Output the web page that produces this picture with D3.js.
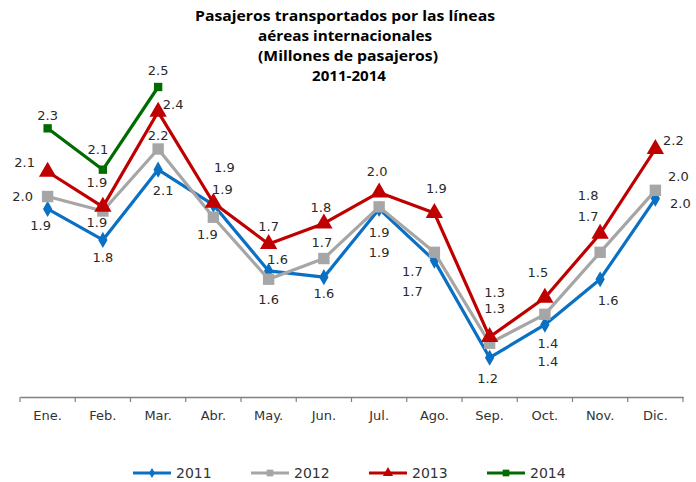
<!DOCTYPE html>
<html>
<head>
<meta charset="utf-8">
<script src="https://cdn.jsdelivr.net/npm/d3@7"></script>
<style>
  body { margin: 0; background: #fff; }
  .title { font-family: "Open Sans", Lato, sans-serif; font-weight: bold; font-size: 14px; fill: #000; }
  .lbl { font-family: "DejaVu Sans", sans-serif; font-size: 13px; fill: #2a2a2a; }
  .axis text { font-family: "DejaVu Sans", sans-serif; font-size: 13px; fill: #333; }
  .legend text { font-family: "DejaVu Sans", sans-serif; font-size: 14px; fill: #333; }
</style>
</head>
<body>
<div id="chart"></div>
<script>
// months on the x axis
var months = ["Ene.", "Feb.", "Mar.", "Abr.", "May.", "Jun.", "Jul.", "Ago.", "Sep.", "Oct.", "Nov.", "Dic."];

// millions of passengers
var v2011 = [1.91, 1.76, 2.10, 1.93, 1.61, 1.58, 1.91, 1.66, 1.19, 1.35, 1.57, 1.96];
var v2012 = [1.97, 1.90, 2.20, 1.87, 1.57, 1.67, 1.92, 1.70, 1.26, 1.40, 1.70, 2.00];
var v2013 = [2.09, 1.92, 2.38, 1.94, 1.74, 1.84, 1.99, 1.89, 1.29, 1.48, 1.79, 2.20];
var v2014 = [2.30, 2.10, 2.50];

var seriesNames = ["2011", "2012", "2013", "2014"];

// where each value label sits relative to its point
var off2011 = [[-7,17],[0,18],[5,21],[9,-15],[9,-11],[0,16],[0,44],[-22,31],[-2,21],[3,37],[8,21],[25,5]];
var off2012 = [[-25,0],[-6,11],[0,-14],[-6,17],[0,20],[-2,-16],[0,26],[-22,19],[5,-35],[3,29],[-12,-36],[23,-14]];
var off2013 = [[-23,-9],[-6,-24],[15,-7],[11,-35],[0,-18],[-3,-16],[-2,-21],[2,-25],[5,-45],[-7,-25],[-12,-38],[18,-9]];
var off2014 = [[0,-13],[-5,-20],[0,-17]];

var width = 696, height = 482;

var svg = d3.select("#chart")
    .append("svg")
    .attr("width", width)
    .attr("height", height);

// scales
var x = d3.scaleBand()
    .domain(months)
    .range([20, 683]);

var y = d3.scaleLinear()
    .domain([1.0, 2.5])
    .range([397, 87]);

var cx = function (m) { return x(m) + x.bandwidth() / 2; };

// title
var titleLines = [
    {t: "Pasajeros transportados por las líneas", dx: 0, w: 300},
    {t: "aéreas internacionales", dx: 0, w: 174},
    {t: "(Millones de pasajeros)", dx: 3, w: 180},
    {t: "2011-2014", dx: 4, w: 74}
];
svg.append("g")
    .selectAll("text")
    .data(titleLines)
    .join("text")
    .attr("class", "title")
    .attr("text-anchor", "middle")
    .attr("x", d => 345 + d.dx)
    .attr("y", (d, i) => 21 + i * 20)
    .attr("textLength", d => d.w)
    .attr("lengthAdjust", "spacingAndGlyphs")
    .text(d => d.t);

// x axis
var xAxis = d3.axisBottom(x).tickSize(0).tickPadding(14);
var gx = svg.append("g")
    .attr("class", "axis")
    .attr("transform", "translate(0,397)")
    .call(xAxis);
gx.select(".domain").attr("stroke", "#808080").attr("stroke-width", 1.5);

// tick marks between the months
var bounds = months.map(m => x(m)).concat([x.range()[1]]);
gx.selectAll(".bound")
    .data(bounds)
    .join("line")
    .attr("class", "bound")
    .attr("x1", d => d).attr("x2", d => d)
    .attr("y1", 0).attr("y2", 5)
    .attr("stroke", "#808080")
    .attr("stroke-width", 1.2);

var line = d3.line()
    .x(d => cx(d.m))
    .y(d => y(d.v));

var diamond = d3.symbol().type(d3.symbolDiamond).size(75);
var square = d3.symbol().type(d3.symbolSquare).size(130);
var squareSmall = d3.symbol().type(d3.symbolSquare).size(70);
var triangle = d3.symbol().type(d3.symbolTriangle).size(130);

var series = [
    {name: "2011", vals: v2011, offs: off2011, color: "#0a70c4", sym: diamond},
    {name: "2012", vals: v2012, offs: off2012, color: "#a6a6a6", sym: square},
    {name: "2013", vals: v2013, offs: off2013, color: "#c00000", sym: triangle},
    {name: "2014", vals: v2014, offs: off2014, color: "#006b00", sym: squareSmall}
];

var fmt = d3.format(".1f");

series.forEach(function (s) {
    var pts = s.vals.map((v, i) => ({m: months[i], v: v, off: s.offs[i]}));
    var g = svg.append("g");
    g.append("path")
        .datum(pts)
        .attr("fill", "none")
        .attr("stroke", s.color)
        .attr("stroke-width", 3.2)
        .attr("stroke-linejoin", "round")
        .attr("d", line);
    g.selectAll("path.mk")
        .data(pts)
        .join("path")
        .attr("class", "mk")
        .attr("transform", d => "translate(" + cx(d.m) + "," + y(d.v) + ")")
        .attr("d", s.sym)
        .attr("fill", s.color);
});

// value labels on top
series.forEach(function (s) {
    var pts = s.vals.map((v, i) => ({m: months[i], v: v, off: s.offs[i]}));
    svg.append("g")
        .selectAll("text")
        .data(pts)
        .join("text")
        .attr("class", "lbl")
        .attr("text-anchor", "middle")
        .attr("x", d => cx(d.m) + d.off[0])
        .attr("y", d => y(d.v) + d.off[1])
        .attr("dy", "0.35em")
        .text(d => fmt(d.v));
});

// legend
var legendSyms = [
    d3.symbol().type(d3.symbolDiamond).size(30),
    d3.symbol().type(d3.symbolSquare).size(45),
    d3.symbol().type(d3.symbolTriangle).size(45),
    d3.symbol().type(d3.symbolSquare).size(45)
];
var legend = svg.append("g")
    .attr("class", "legend")
    .attr("transform", "translate(133,473)");
var item = legend.selectAll("g")
    .data(series)
    .join("g")
    .attr("transform", (d, i) => "translate(" + (i * 118) + ",0)");
item.append("line")
    .attr("x1", 0).attr("x2", 38)
    .attr("stroke", d => d.color)
    .attr("stroke-width", 3.2);
item.append("path")
    .attr("transform", "translate(19,0)")
    .attr("d", (d, i) => legendSyms[i]())
    .attr("fill", d => d.color);
item.append("text")
    .attr("x", 43)
    .attr("dy", "0.36em")
    .text(d => d.name);
</script>
</body>
</html>
